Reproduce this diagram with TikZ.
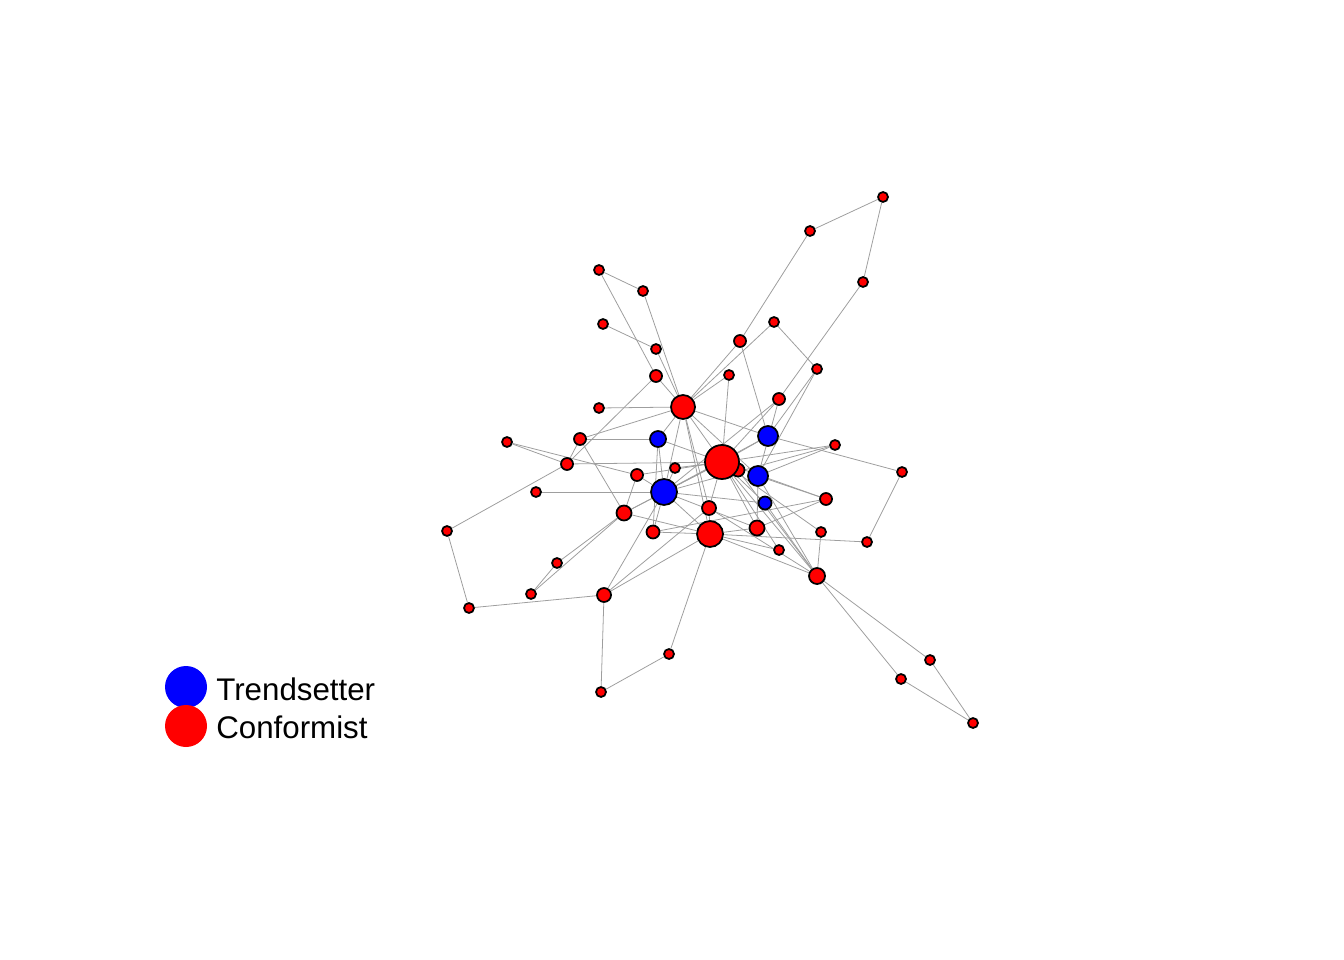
\documentclass[tikz,border=0pt]{standalone}
\usepackage{fontspec}
\setmainfont{Liberation Sans}
\usepackage{xcolor}
\usetikzlibrary{backgrounds}

\definecolor{edgegray}{gray}{0.62}

\begin{document}
\begin{tikzpicture}[
  x=0.2mm, y=-0.2mm,
  agent/.style={circle, draw=black, line width=1pt, inner sep=0pt},
  conf/.style={agent, fill=red},
  trend/.style={agent, fill=blue},
  tie/.style={draw=edgegray, line width=0.45pt},
  key/.style={circle, fill=#1, minimum size=8.4mm, inner sep=0pt},
  keytext/.style={font=\fontsize{17.8}{20}\selectfont, anchor=west, inner sep=0pt},
]
\useasboundingbox (0,0) rectangle (1344,960);

% conformists
\node[conf, minimum size=2mm] (n1) at (883,197) {};
\node[conf, minimum size=2mm] (n2) at (810,231) {};
\node[conf, minimum size=2mm] (n3) at (863,282) {};
\node[conf, minimum size=2mm] (n4) at (599,270) {};
\node[conf, minimum size=2mm] (n5) at (643,291) {};
\node[conf, minimum size=2mm] (n6) at (603,324) {};
\node[conf, minimum size=2mm] (n7) at (656,349) {};
\node[conf, minimum size=2.4mm] (n8) at (740,341) {};
\node[conf, minimum size=2mm] (n9) at (774,322) {};
\node[conf, minimum size=2.4mm] (n10) at (656,376) {};
\node[conf, minimum size=2mm] (n11) at (729,375) {};
\node[conf, minimum size=2mm] (n12) at (817,369) {};
\node[conf, minimum size=2.4mm] (n13) at (779,399) {};
\node[conf, minimum size=2mm] (n14) at (599,408) {};
\node[conf, minimum size=2.4mm] (n16) at (580,439) {};
\node[conf, minimum size=2mm] (n17) at (507,442) {};
\node[conf, minimum size=2mm] (n20) at (835,445) {};
\node[conf, minimum size=2.4mm] (n21) at (567,464) {};
\node[conf, minimum size=2.4mm] (n22) at (637,475) {};
\node[conf, minimum size=2mm] (n23) at (675,468) {};
\node[conf, minimum size=2.6mm] (n25) at (738,470) {};
\node[conf, minimum size=2mm] (n27) at (902,472) {};
\node[conf, minimum size=2mm] (n28) at (536,492) {};
\node[conf, minimum size=2.4mm] (n30) at (826,499) {};
\node[conf, minimum size=2.8mm] (n32) at (709,508) {};
\node[conf, minimum size=3mm] (n33) at (624,513) {};
\node[conf, minimum size=2mm] (n34) at (447,531) {};
\node[conf, minimum size=2.6mm] (n35) at (653,532) {};
\node[conf, minimum size=3mm] (n37) at (757,528) {};
\node[conf, minimum size=2mm] (n38) at (821,532) {};
\node[conf, minimum size=2mm] (n39) at (867,542) {};
\node[conf, minimum size=2mm] (n40) at (779,550) {};
\node[conf, minimum size=2mm] (n41) at (557,563) {};
\node[conf, minimum size=3.2mm] (n42) at (817,576) {};
\node[conf, minimum size=2mm] (n43) at (531,594) {};
\node[conf, minimum size=2.8mm] (n44) at (604,595) {};
\node[conf, minimum size=2mm] (n45) at (469,608) {};
\node[conf, minimum size=2mm] (n46) at (669,654) {};
\node[conf, minimum size=2mm] (n47) at (930,660) {};
\node[conf, minimum size=2mm] (n48) at (901,679) {};
\node[conf, minimum size=2mm] (n49) at (601,692) {};
\node[conf, minimum size=2mm] (n50) at (973,723) {};
\node[conf, minimum size=4.8mm] (n15) at (683,407) {};
\node[conf, minimum size=5.2mm] (n36) at (710,534) {};
\node[conf, minimum size=6.8mm] (n24) at (722,462) {};

% trendsetters
\node[trend, minimum size=3.2mm] (n18) at (658,439) {};
\node[trend, minimum size=4mm] (n19) at (768,436) {};
\node[trend, minimum size=4mm] (n26) at (758,476) {};
\node[trend, minimum size=5.2mm] (n29) at (664,492) {};
\node[trend, minimum size=2.6mm] (n31) at (765,503) {};

% ties
\begin{scope}[on background layer]
\foreach \a/\b in {n1/n2, n1/n3, n2/n8, n8/n15, n3/n13, n9/n12, n12/n19,
  n9/n15, n8/n19, n11/n24, n11/n15, n4/n5, n4/n10, n6/n7, n5/n15, n7/n15,
  n10/n15, n10/n21, n14/n15, n15/n24, n15/n19, n15/n26, n15/n29, n15/n18,
  n15/n32, n15/n36, n15/n16, n16/n18, n16/n21, n16/n33, n17/n21, n17/n22,
  n21/n24, n34/n21, n28/n29, n22/n29, n33/n29, n33/n24, n33/n36, n33/n41,
  n33/n43, n41/n43, n45/n44, n34/n45, n44/n29, n44/n32, n44/n36, n44/n49,
  n49/n46, n46/n36, n35/n36, n35/n29, n36/n42, n36/n40, n36/n37, n36/n39,
  n42/n47, n42/n48, n47/n50, n48/n50, n42/n38, n42/n24, n42/n26, n42/n31,
  n42/n32, n27/n19, n27/n39, n20/n26, n20/n24, n20/n29, n30/n26, n30/n24,
  n30/n35, n13/n24, n13/n26, n13/n29, n18/n29, n18/n35, n23/n24, n23/n29,
  n22/n24, n29/n24, n29/n36, n29/n37, n32/n24, n32/n36, n24/n37, n24/n40,
  n26/n37, n31/n24, n31/n29, n19/n24, n19/n29, n22/n33, n18/n24, n25/n42,
  n38/n24, n37/n30, n12/n26}
  \path[tie] (\a) -- (\b);
\end{scope}

% legend
\node[key=blue] (kt) at (186,687) {};
\node[key=red] (kc) at (186,726) {};
\node[keytext] (lt) at (216,689) {Trendsetter};
\node[keytext] (lc) at (216,727) {Conformist};

\end{tikzpicture}
\end{document}
